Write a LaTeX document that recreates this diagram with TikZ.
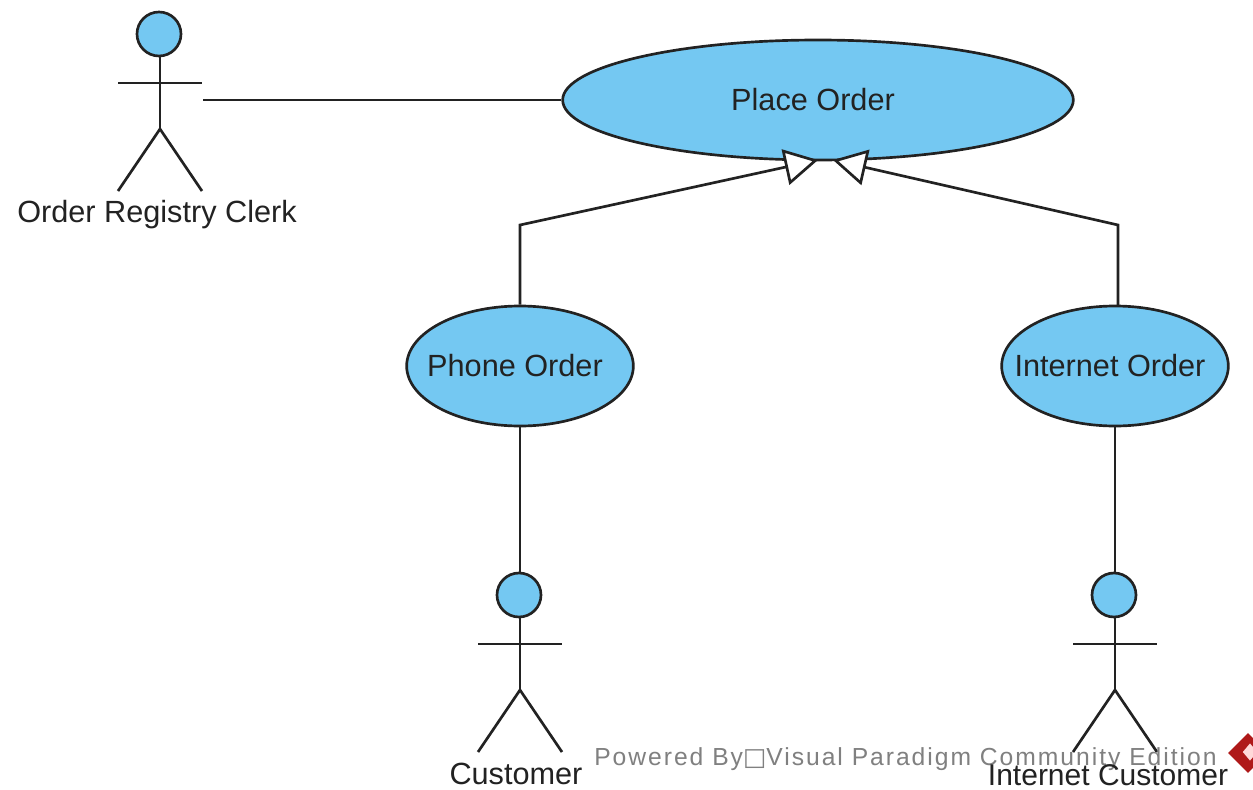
\documentclass[tikz,border=0pt]{standalone}
\usepackage{fontspec}
\setmainfont{Liberation Sans}
\newfontfamily\wmfont[LetterSpace=8]{Liberation Sans}
\newfontfamily\boxfont{DejaVu Sans}
\usetikzlibrary{arrows.meta,shapes.geometric}
\definecolor{ucblue}{HTML}{74C8F2}
\definecolor{lineink}{HTML}{222222}
\tikzset{
  x=0.75pt,y=-0.75pt,
  line/.style={draw=lineink,line width=2pt},
  usecase/.style={ellipse,draw=lineink,line width=2pt,fill=ucblue,inner sep=0pt,font=\fontsize{23}{25}\selectfont,text=lineink},
  head/.style={circle,draw=lineink,line width=2pt,fill=ucblue,inner sep=0pt,minimum size=33pt},
  gen/.style={line,-{Triangle[open,length=25pt,width=27pt,fill=white]}},
  label/.style={font=\fontsize{23}{25}\selectfont,text=lineink,inner sep=0pt},
  wm/.style={font=\fontsize{18.5}{20}\wmfont,text=black!50,inner sep=0pt,anchor=west}
}
\newcommand{\actor}[3]{%
  \node[head] (#3head) at (#1-1,#2) {};
  \coordinate (#3hip) at (#1,#2+95);
  \coordinate (#3la) at (#1-42,#2+49);
  \coordinate (#3ra) at (#1+42,#2+49);
  \coordinate (#3lf) at (#1-42,#2+157);
  \coordinate (#3rf) at (#1+42,#2+157);
  \draw[line] (#3hip |- #3head.south) -- (#3hip);
  \draw[line] (#3la) -- (#3ra);
  \draw[line] (#3lf) -- (#3hip) -- (#3rf);
}
\newcommand{\uctext}[1]{\makebox[0pt]{\hspace{-7.5pt}#1}}
\begin{document}
\begin{tikzpicture}
\useasboundingbox (0,0) rectangle (1253,789);
\fill[white] (0,0) rectangle (1253,789);
\node[usecase,minimum width=383pt,minimum height=90pt] (place) at (818,100) {\uctext{Place Order}};
\node[usecase,minimum width=170pt,minimum height=90pt] (phone) at (520,366) {\uctext{Phone Order}};
\node[usecase,minimum width=170pt,minimum height=90pt] (internet) at (1115,366) {\uctext{Internet Order}};
\actor{160}{34}{clerk}
\actor{520}{595}{cust}
\actor{1115}{595}{inet}
\coordinate (clerkend) at (203,100);
\draw[line] (clerkend) -- (place.west);
\coordinate (tipl) at (818,160);
\coordinate (tipr) at (833,160);
\coordinate (inettop) at (1118,306);
\draw[gen] (phone.north) -- (520,225) -- (tipl);
\draw[gen] (inettop) -- (1118,225) -- (tipr);
\draw[line] (phone.south) -- (phone.south |- custhead.north);
\draw[line] (internet.south) -- (internet.south |- inethead.north);
\node[label] (l1) at (157,215) {Order Registry Clerk};
\node[wm] (wm) at (594,759) {Powered By{\boxfont □}Visual Paradigm Community Edition};
\node[label] (l2) at (516,774) {Customer};
\node[label,font=\fontsize{22.5}{24}\selectfont] (l3) at (1108,775) {Internet Customer};
\node[diamond,fill=red!65!black!90!white,inner sep=0pt,minimum width=30pt,minimum height=30pt] (logo) at (1248,753) {};
\node[diamond,fill=red!15!white,inner sep=0pt,minimum width=11pt,minimum height=13pt] (logoinner) at (1250,752) {};
\end{tikzpicture}
\end{document}
